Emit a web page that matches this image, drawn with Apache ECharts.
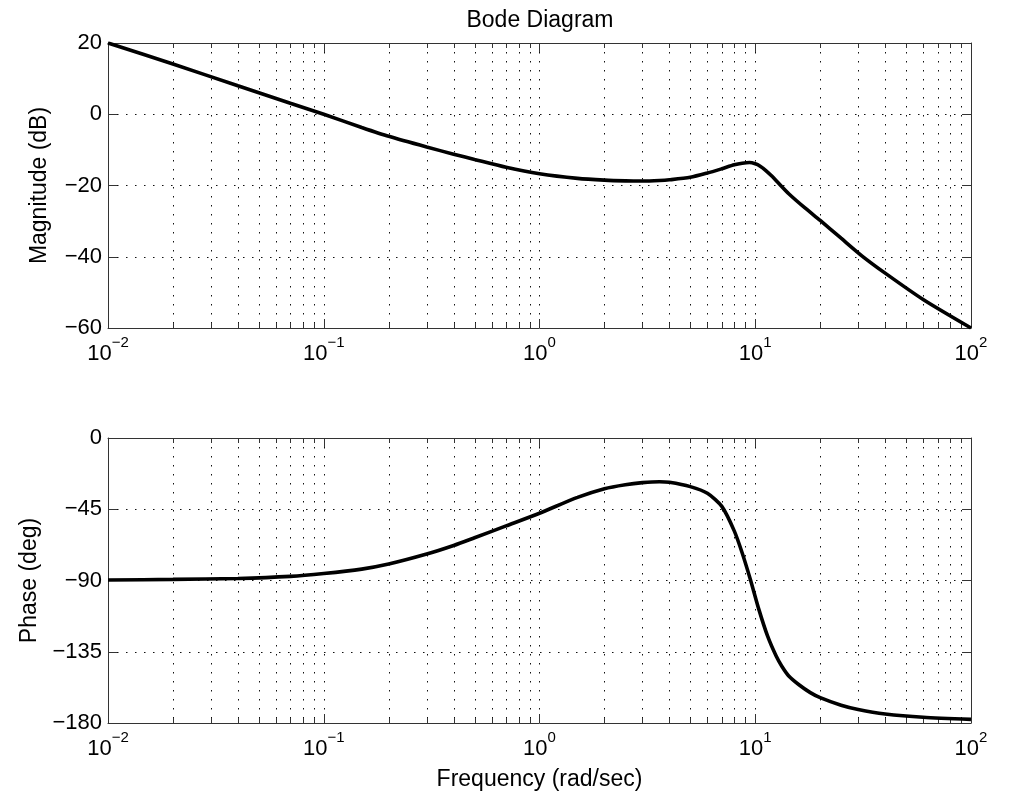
<!DOCTYPE html>
<html><head><meta charset="utf-8">
<script src="https://cdn.jsdelivr.net/npm/echarts@6/dist/echarts.min.js"></script>
<style>html,body{margin:0;padding:0;background:#fff}#c{width:1015px;height:804px}</style>
</head><body><div id="c"></div>
<script>
// ---- data ----
const magFreq = [0.01, 0.02, 0.04, 0.07, 0.1, 0.15, 0.2, 0.3, 0.4, 0.5, 0.7, 1, 1.5, 2, 2.5, 3, 3.6, 4, 5, 6, 7, 8, 8.7, 9.4, 10, 10.5, 11.2, 12, 12.9, 14.3, 17, 20, 25, 31.3, 40, 60, 100];
const magDb = [20, 14.1, 8.0, 3.1, 0.0, -3.7, -6.2, -9.2, -11.2, -12.7, -14.9, -16.7, -18.0, -18.5, -18.7, -18.75, -18.6, -18.4, -17.7, -16.5, -15.3, -14.2, -13.75, -13.55, -13.9, -14.5, -15.8, -17.5, -19.5, -22.3, -26.3, -29.8, -34.8, -39.8, -44.6, -52.0, -60.0];
const phaseFreq = [0.01, 0.02, 0.04, 0.07, 0.1, 0.15, 0.2, 0.3, 0.4, 0.5, 0.7, 1, 1.5, 2, 2.5, 3, 3.6, 4, 5, 6, 7, 8, 8.7, 9.5, 10.4, 11.4, 12.5, 13.3, 14.3, 16, 18, 20, 25, 30, 40, 60, 100];
const phaseDeg = [-89.7, -89.3, -88.7, -87.4, -85.6, -82.8, -79.6, -73.3, -67.9, -63.0, -55.5, -47.5, -37.5, -32.0, -29.5, -28.2, -27.6, -28.0, -30.7, -34.9, -43.2, -58.8, -72.6, -89.5, -108.4, -125.0, -137.7, -144.3, -150.3, -156.0, -160.8, -164.0, -168.8, -171.5, -174.3, -176.4, -177.7];
const decades = [0.01, 0.1, 1, 10];
const minorMult = [2, 3, 4, 5, 6, 7, 8, 9];
const magTicks = {min: -60, max: 20, interval: 20};
const phaseTicks = {min: -180, max: 0, interval: 45};
const titleText = 'Bode Diagram';
const magLabel = 'Magnitude (dB)';
const phaseLabel = 'Phase (deg)';
const freqLabel = 'Frequency (rad/sec)';

// ---- chart ----
const FONT = '"Liberation Sans", Arial, Helvetica, sans-serif';
const minorTicks = [];
decades.forEach(d => minorMult.forEach(m => minorTicks.push(+(d * m).toPrecision(3))));
const minus = s => String(s).replace('-', '\u2212');
const dotted = {color: '#111', width: 1, type: [1.5, 7.5]};
const AXC = '#333';
const FS = 22;

function xAxes(grid, bottom) {
  return {
    type: 'log', logBase: 10, gridIndex: grid, min: 0.01, max: 100, interval: 1,
    position: bottom ? 'bottom' : 'top',
    axisLine: {show: true, onZero: false, lineStyle: {color: AXC, width: 1}},
    axisTick: {show: true, inside: true, length: 9, lineStyle: {color: AXC}},
    splitLine: {show: bottom, lineStyle: dotted},
    axisLabel: bottom ? {
      show: true, margin: 14,
      formatter: v => '{b|10}{s|' + minus(Math.round(Math.log10(v))) + '}',
      rich: {
        b: {fontSize: FS, fontFamily: FONT, color: '#000', lineHeight: 24},
        s: {fontSize: 15, fontFamily: FONT, color: '#000', lineHeight: 15, padding: [0, 0, 22, 0]}
      }
    } : {show: false}
  };
}
function yAxes(grid, left, t) {
  return {
    type: 'value', gridIndex: grid, min: t.min, max: t.max, interval: t.interval,
    position: left ? 'left' : 'right',
    axisLine: {show: true, onZero: false, lineStyle: {color: AXC, width: 1}},
    axisTick: {show: true, inside: true, length: 9, lineStyle: {color: AXC}},
    splitLine: {show: left, lineStyle: dotted},
    axisLabel: left ? {show: true, margin: 6, fontSize: FS, fontFamily: FONT, color: '#000', formatter: v => minus(v)} : {show: false}
  };
}

const nameStyle = {fontSize: 23, fontFamily: FONT, color: '#000'};
const xs = [xAxes(0, true), xAxes(0, false), xAxes(1, true), xAxes(1, false)];
Object.assign(xs[2], {name: freqLabel, nameLocation: 'middle', nameGap: 39, nameTextStyle: nameStyle});
const ys = [yAxes(0, true, magTicks), yAxes(0, false, magTicks), yAxes(1, true, phaseTicks), yAxes(1, false, phaseTicks)];
Object.assign(ys[0], {name: magLabel, nameLocation: 'middle', nameGap: 57, nameTextStyle: nameStyle});
Object.assign(ys[2], {name: phaseLabel, nameLocation: 'middle', nameGap: 60, nameTextStyle: nameStyle});

function minorSeries(xi, yi, ymin) {
  return {
    type: 'custom', xAxisIndex: xi, yAxisIndex: yi, silent: true, z: 1,
    data: minorTicks.map(v => [v, ymin]),
    renderItem(params, api) {
      const cs = params.coordSys;
      const x = Math.round(api.coord([api.value(0), api.value(1)])[0]) + 0.5;
      const top = cs.y, bot = cs.y + cs.height;
      return {type: 'group', children: [
        {type: 'line', shape: {x1: x, y1: top, x2: x, y2: bot}, style: {stroke: '#111', lineWidth: 1, lineDash: [1.5, 7.5]}},
        {type: 'line', shape: {x1: x, y1: bot, x2: x, y2: bot - 5}, style: {stroke: AXC, lineWidth: 1}},
        {type: 'line', shape: {x1: x, y1: top, x2: x, y2: top + 5}, style: {stroke: AXC, lineWidth: 1}}
      ]};
    }
  };
}

const chart = echarts.init(document.getElementById('c'), null, {renderer: 'canvas'});
chart.setOption({
  animation: false,
  backgroundColor: '#fff',
  title: {text: titleText, left: 535, textAlign: 'center', top: 4,
    textStyle: {fontSize: 23, fontWeight: 'normal', fontFamily: FONT, color: '#000'}},
  grid: [
    {left: 108, top: 43, width: 863, height: 285},
    {left: 108, top: 438, width: 863, height: 285}
  ],
  xAxis: xs,
  yAxis: ys,
  series: [
    minorSeries(0, 0, magTicks.min),
    minorSeries(2, 2, phaseTicks.min),
    {type: 'line', xAxisIndex: 0, yAxisIndex: 0, data: magFreq.map((f, i) => [f, magDb[i]]),
      showSymbol: false, smooth: 0.25, z: 5, lineStyle: {color: '#000', width: 3.6}},
    {type: 'line', xAxisIndex: 2, yAxisIndex: 2, data: phaseFreq.map((f, i) => [f, phaseDeg[i]]),
      showSymbol: false, smooth: 0.25, z: 5, lineStyle: {color: '#000', width: 3.6}}
  ]
});
</script>
</body></html>
